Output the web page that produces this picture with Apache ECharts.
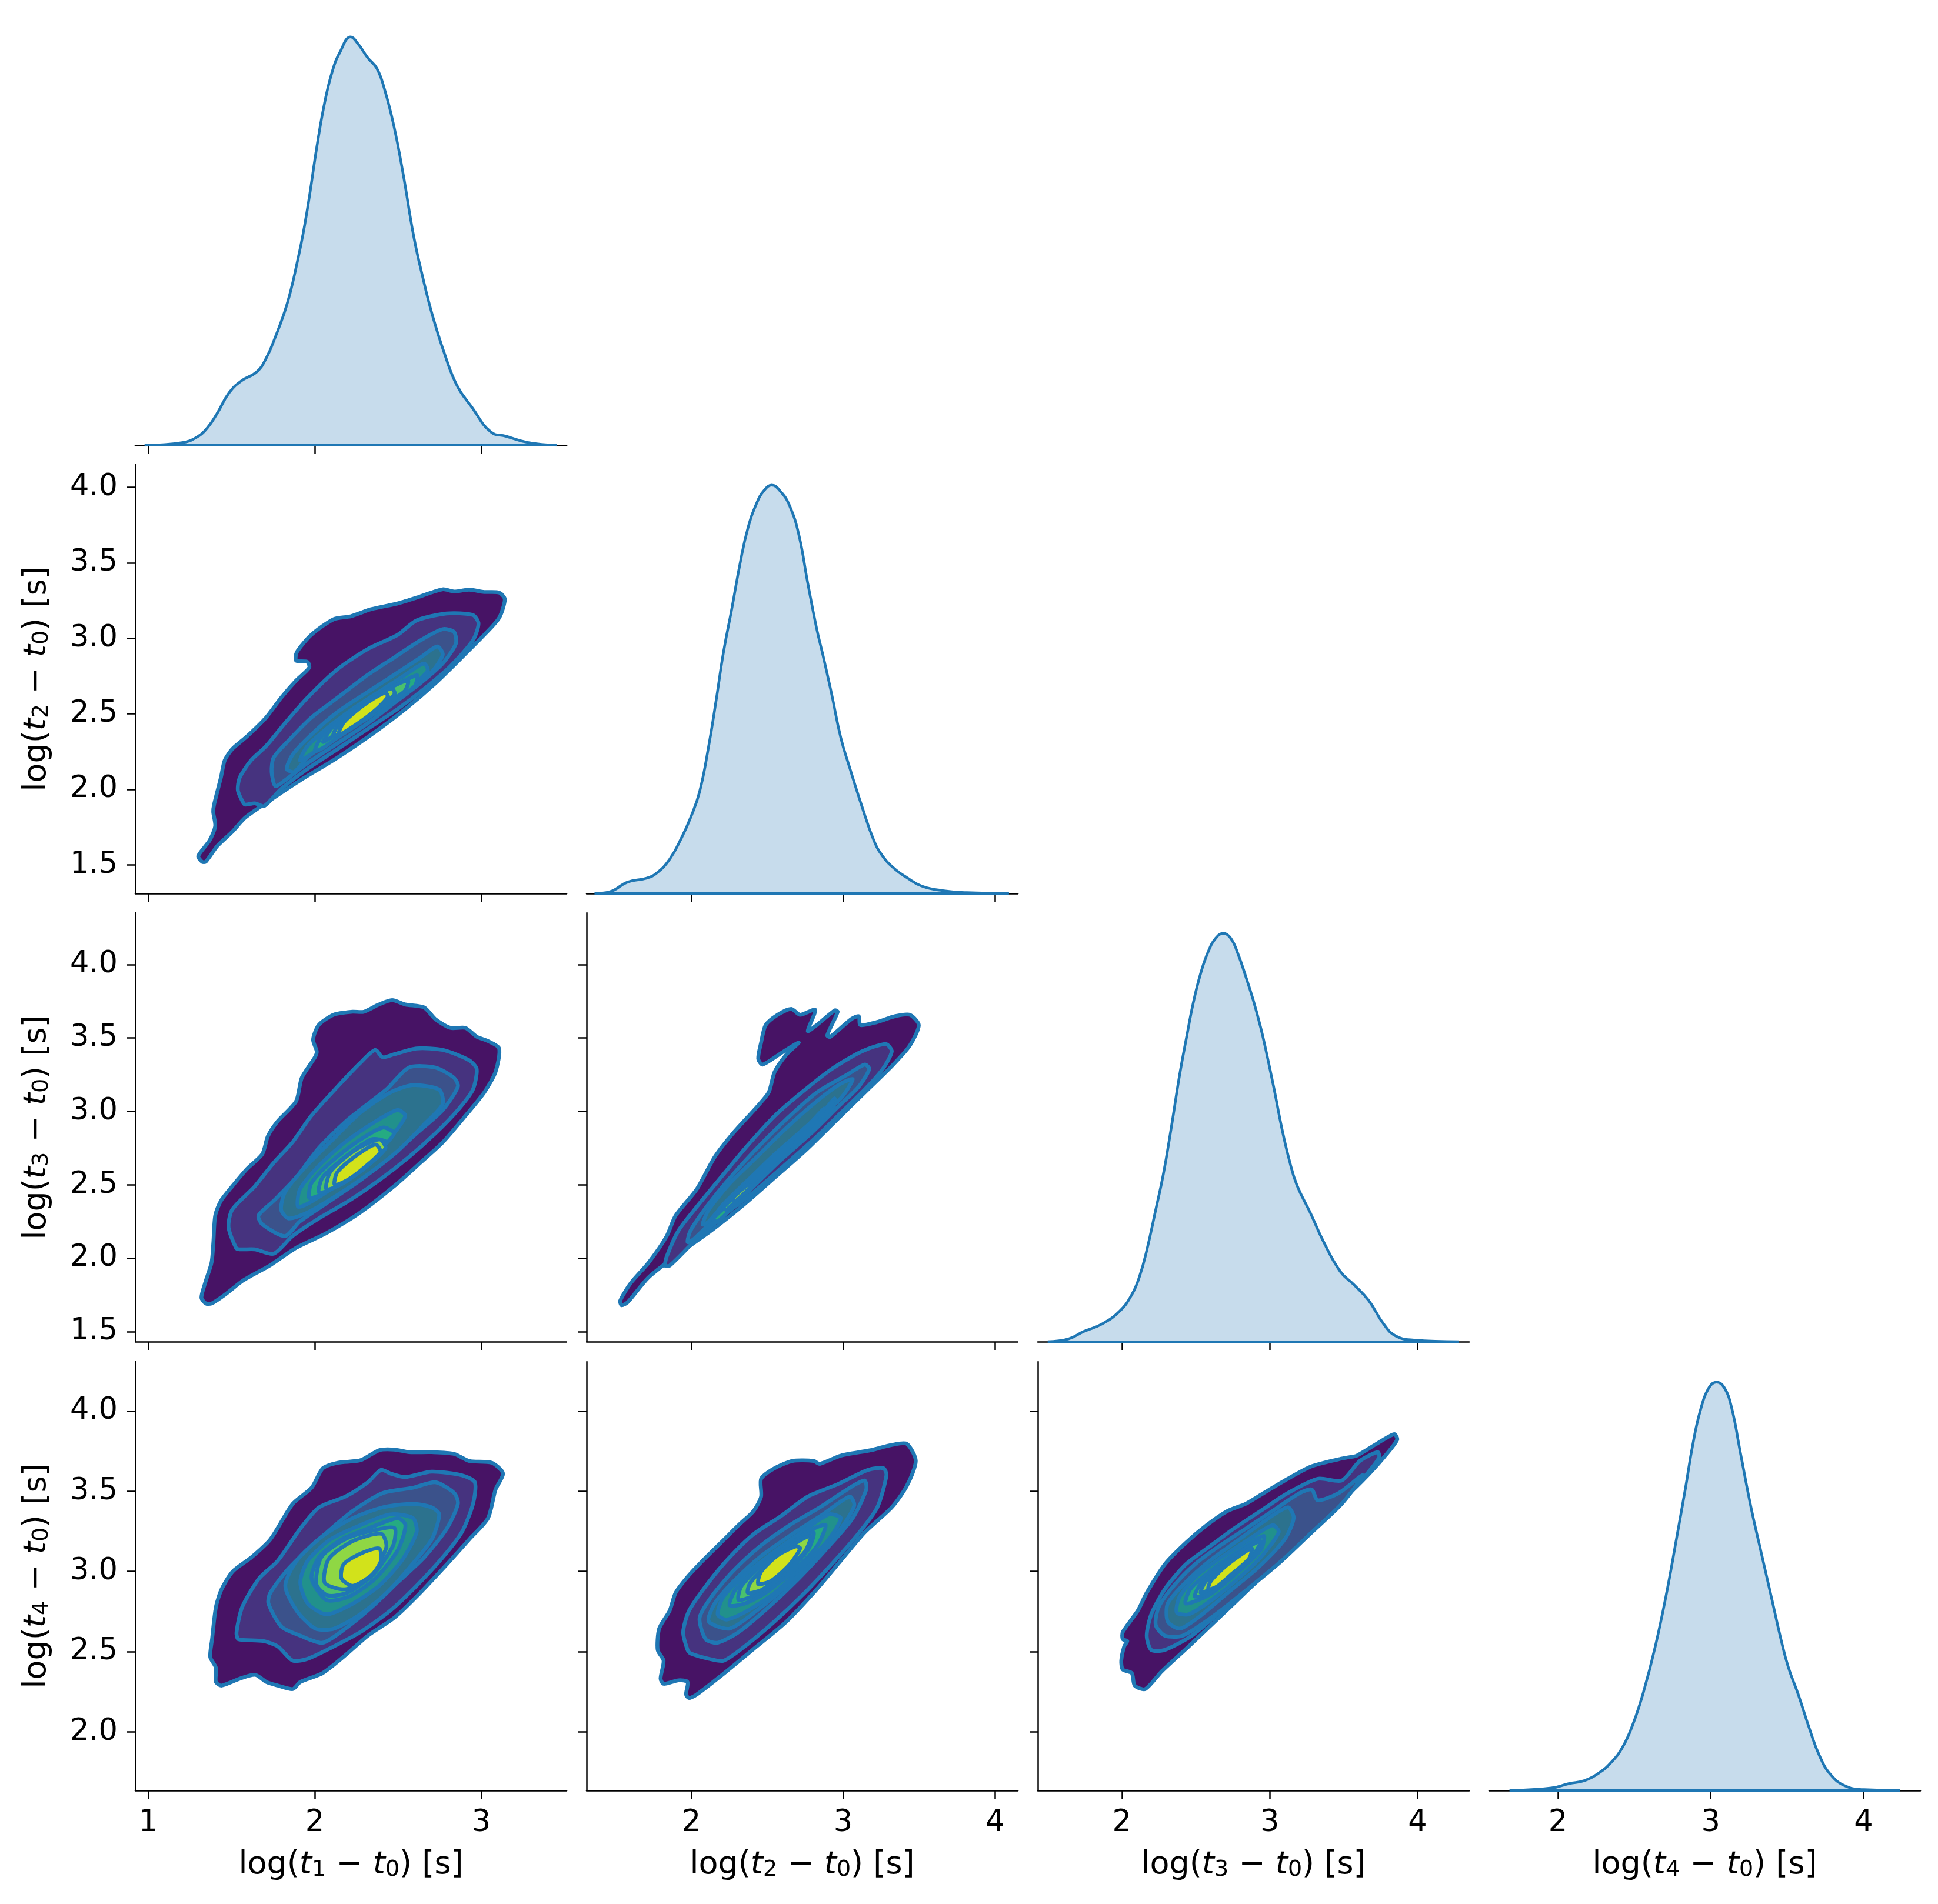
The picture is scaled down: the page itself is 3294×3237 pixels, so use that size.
<!DOCTYPE html>
<html><head><meta charset="utf-8">
<script src="https://cdn.jsdelivr.net/npm/echarts@6/dist/echarts.min.js"></script>
<style>html,body{margin:0;padding:0;background:#fff}#c{width:3294px;height:3237px}</style>
</head><body><div id="c"></div>
<script>
// ---------------- DATA ----------------
// Diagonal KDE curves (x value, relative density)
const kde1_x = [0.978,1.209,1.300,1.357,1.412,1.486,1.560,1.652,1.708,1.763,1.819,1.856,1.893,1.930,1.967,2.013,2.059,2.105,2.152,2.216,2.262,2.318,2.373,2.420,2.475,2.531,2.595,2.651,2.706,2.780,2.854,2.946,3.057,3.150,3.279,3.455];
const kde1_y = [0,0.007,0.022,0.044,0.077,0.129,0.158,0.180,0.213,0.265,0.327,0.379,0.445,0.518,0.607,0.732,0.838,0.915,0.963,1.0,0.982,0.949,0.923,0.871,0.783,0.665,0.511,0.408,0.320,0.224,0.147,0.092,0.033,0.022,0.007,0];
const kde2_x = [1.364,1.462,1.581,1.700,1.769,1.858,1.937,1.996,2.055,2.115,2.164,2.213,2.267,2.322,2.372,2.431,2.480,2.530,2.589,2.648,2.708,2.767,2.826,2.866,2.925,2.984,3.043,3.123,3.202,3.261,3.340,3.419,3.518,3.656,3.814,4.091];
const kde2_y = [0,0.004,0.028,0.037,0.049,0.084,0.137,0.186,0.249,0.361,0.473,0.592,0.697,0.809,0.893,0.956,0.987,1.0,0.984,0.949,0.879,0.760,0.648,0.585,0.487,0.382,0.308,0.214,0.130,0.091,0.060,0.039,0.018,0.007,0.002,0];
const kde3_x = [1.499,1.641,1.742,1.864,1.986,2.067,2.118,2.168,2.229,2.280,2.331,2.391,2.442,2.483,2.533,2.584,2.635,2.686,2.736,2.787,2.838,2.888,2.939,2.980,3.030,3.081,3.132,3.183,3.274,3.365,3.477,3.568,3.669,3.771,3.852,3.974,4.278];
const kde3_y = [0,0.007,0.025,0.043,0.075,0.115,0.158,0.223,0.323,0.409,0.517,0.654,0.754,0.830,0.902,0.955,0.988,1.0,0.988,0.948,0.894,0.837,0.769,0.704,0.618,0.524,0.445,0.384,0.316,0.244,0.172,0.140,0.101,0.043,0.014,0.004,0];
const kde4_x = [1.684,1.957,2.074,2.172,2.269,2.347,2.425,2.493,2.561,2.639,2.717,2.776,2.834,2.883,2.932,2.990,3.039,3.088,3.136,3.195,3.263,3.331,3.400,3.458,3.507,3.575,3.643,3.712,3.789,3.887,4.004,4.238];
const kde4_y = [0,0.006,0.017,0.024,0.043,0.068,0.107,0.164,0.242,0.355,0.494,0.616,0.738,0.847,0.930,0.987,1.0,0.987,0.939,0.826,0.695,0.582,0.469,0.373,0.303,0.233,0.155,0.085,0.037,0.010,0.002,0];

// Contour level polygons (outer level first), [x, y] in data units
const r2c1 = [
 [[1.323,1.521],[1.300,1.559],[1.368,1.662],[1.402,1.757],[1.390,1.851],[1.395,1.899],[1.436,2.078],[1.459,2.192],[1.504,2.267],[1.594,2.352],[1.707,2.475],[1.798,2.607],[1.888,2.721],[1.967,2.806],[1.956,2.844],[1.888,2.853],[1.893,2.910],[1.979,3.023],[2.114,3.127],[2.216,3.146],[2.340,3.193],[2.498,3.231],[2.611,3.269],[2.769,3.325],[2.837,3.310],[2.928,3.322],[3.018,3.307],[3.108,3.303],[3.142,3.259],[3.108,3.136],[3.018,3.023],[2.882,2.872],[2.724,2.702],[2.544,2.532],[2.363,2.381],[2.137,2.211],[1.911,2.059],[1.730,1.927],[1.583,1.814],[1.504,1.719],[1.414,1.625],[1.345,1.521]],
 [[1.572,1.908],[1.538,1.993],[1.549,2.078],[1.617,2.192],[1.707,2.286],[1.820,2.437],[1.956,2.607],[2.137,2.796],[2.318,2.929],[2.498,3.023],[2.611,3.118],[2.792,3.165],[2.950,3.155],[2.984,3.099],[2.950,2.986],[2.815,2.815],[2.656,2.664],[2.498,2.532],[2.318,2.400],[2.137,2.267],[1.956,2.135],[1.798,2.003],[1.696,1.890],[1.640,1.908],[1.583,1.899]],
 [[1.741,2.116],[1.753,2.211],[1.843,2.324],[1.979,2.475],[2.137,2.607],[2.318,2.758],[2.476,2.872],[2.634,2.986],[2.769,3.061],[2.837,3.042],[2.848,2.966],[2.769,2.834],[2.634,2.702],[2.476,2.570],[2.318,2.437],[2.137,2.305],[1.956,2.173],[1.820,2.059],[1.763,2.022]],
 [[1.832,2.135],[1.866,2.229],[1.979,2.362],[2.137,2.513],[2.318,2.645],[2.476,2.758],[2.634,2.872],[2.736,2.947],[2.769,2.891],[2.702,2.777],[2.566,2.664],[2.407,2.551],[2.250,2.437],[2.092,2.324],[1.956,2.211],[1.877,2.116]],
 [[1.911,2.192],[1.956,2.286],[2.069,2.400],[2.227,2.532],[2.385,2.645],[2.543,2.758],[2.656,2.834],[2.679,2.787],[2.588,2.683],[2.453,2.570],[2.295,2.456],[2.137,2.343],[2.001,2.249]],
 [[2.000,2.255],[2.050,2.365],[2.195,2.490],[2.363,2.605],[2.505,2.700],[2.615,2.755],[2.600,2.683],[2.476,2.589],[2.318,2.475],[2.159,2.362],[2.050,2.275]],
 [[2.050,2.315],[2.120,2.430],[2.265,2.550],[2.430,2.660],[2.560,2.720],[2.540,2.650],[2.395,2.545],[2.250,2.440],[2.120,2.360]],
 [[2.110,2.355],[2.160,2.455],[2.310,2.580],[2.460,2.670],[2.480,2.630],[2.350,2.510],[2.210,2.400]],
 [[2.145,2.365],[2.172,2.440],[2.290,2.555],[2.420,2.640],[2.440,2.615],[2.370,2.530],[2.250,2.430]]
];
const r3c1 = [
 [[1.346,1.692],[1.319,1.732],[1.341,1.831],[1.380,1.971],[1.391,2.111],[1.402,2.291],[1.436,2.391],[1.504,2.490],[1.594,2.610],[1.685,2.710],[1.718,2.830],[1.775,2.930],[1.888,3.070],[1.922,3.229],[2.001,3.369],[2.012,3.409],[1.990,3.489],[2.024,3.589],[2.115,3.659],[2.227,3.679],[2.295,3.679],[2.385,3.728],[2.465,3.758],[2.544,3.728],[2.657,3.708],[2.724,3.629],[2.815,3.569],[2.905,3.569],[2.973,3.509],[3.041,3.479],[3.108,3.429],[3.086,3.269],[3.018,3.129],[2.905,2.970],[2.769,2.790],[2.634,2.650],[2.476,2.490],[2.272,2.311],[2.069,2.171],[1.888,2.071],[1.730,1.951],[1.572,1.851],[1.459,1.751],[1.380,1.692]],
 [[1.527,2.071],[1.482,2.211],[1.504,2.331],[1.640,2.490],[1.753,2.650],[1.866,2.790],[1.979,2.970],[2.137,3.169],[2.272,3.329],[2.363,3.419],[2.408,3.369],[2.476,3.389],[2.611,3.429],[2.769,3.419],[2.927,3.349],[2.973,3.289],[2.950,3.149],[2.860,3.010],[2.724,2.850],[2.566,2.690],[2.385,2.530],[2.205,2.391],[2.024,2.271],[1.866,2.151],[1.753,2.031],[1.640,2.061],[1.549,2.061]],
 [[1.685,2.231],[1.662,2.291],[1.753,2.391],[1.888,2.550],[2.024,2.750],[2.205,2.950],[2.430,3.149],[2.566,3.299],[2.724,3.299],[2.837,3.229],[2.860,3.169],[2.769,3.010],[2.611,2.850],[2.453,2.690],[2.272,2.530],[2.092,2.391],[1.911,2.251],[1.821,2.151]],
 [[1.798,2.331],[1.821,2.450],[1.934,2.610],[2.092,2.790],[2.272,2.990],[2.453,3.129],[2.589,3.179],[2.747,3.149],[2.769,3.050],[2.656,2.910],[2.498,2.730],[2.318,2.570],[2.137,2.431],[1.956,2.311],[1.843,2.271]],
 [[1.899,2.351],[1.911,2.470],[2.024,2.630],[2.182,2.790],[2.363,2.930],[2.498,3.010],[2.544,2.970],[2.476,2.850],[2.363,2.710],[2.227,2.570],[2.069,2.450],[1.956,2.371]],
 [[1.967,2.411],[1.979,2.510],[2.092,2.650],[2.250,2.790],[2.408,2.890],[2.476,2.850],[2.385,2.730],[2.250,2.590],[2.114,2.480],[2.012,2.421]],
 [[2.024,2.451],[2.047,2.550],[2.182,2.690],[2.340,2.810],[2.431,2.790],[2.340,2.670],[2.205,2.550],[2.081,2.460]],
 [[2.070,2.470],[2.095,2.590],[2.240,2.735],[2.390,2.810],[2.425,2.750],[2.318,2.630],[2.170,2.510]],
 [[2.120,2.500],[2.135,2.585],[2.250,2.700],[2.365,2.775],[2.395,2.725],[2.310,2.630],[2.200,2.535]]
];
const r3c2 = [
 [[1.542,1.680],[1.532,1.710],[1.601,1.830],[1.719,1.970],[1.838,2.150],[1.897,2.290],[2.036,2.470],[2.154,2.689],[2.273,2.849],[2.431,3.029],[2.510,3.129],[2.549,3.269],[2.628,3.389],[2.708,3.469],[2.609,3.409],[2.470,3.319],[2.441,3.359],[2.460,3.469],[2.490,3.588],[2.569,3.658],[2.658,3.698],[2.717,3.658],[2.816,3.692],[2.767,3.548],[2.826,3.588],[2.945,3.688],[2.964,3.678],[2.895,3.518],[2.915,3.508],[3.053,3.628],[3.103,3.648],[3.113,3.588],[3.221,3.608],[3.340,3.648],[3.439,3.658],[3.498,3.588],[3.439,3.449],[3.320,3.309],[3.142,3.129],[2.945,2.929],[2.747,2.729],[2.549,2.549],[2.352,2.370],[2.134,2.190],[1.917,2.030],[1.719,1.870],[1.581,1.700]],
 [[1.828,1.950],[1.838,2.010],[1.917,2.190],[2.036,2.350],[2.194,2.549],[2.372,2.769],[2.549,2.969],[2.727,3.129],[2.925,3.289],[3.123,3.409],[3.281,3.459],[3.320,3.409],[3.261,3.289],[3.142,3.149],[2.984,2.989],[2.806,2.809],[2.609,2.629],[2.411,2.450],[2.213,2.290],[2.016,2.110],[1.858,1.950]],
 [[1.976,2.110],[1.996,2.190],[2.115,2.370],[2.273,2.569],[2.451,2.769],[2.628,2.949],[2.826,3.129],[3.024,3.249],[3.142,3.319],[3.172,3.289],[3.103,3.169],[2.964,3.029],[2.787,2.849],[2.589,2.669],[2.391,2.490],[2.194,2.310],[2.016,2.130]],
 [[2.075,2.230],[2.115,2.330],[2.253,2.509],[2.431,2.689],[2.628,2.889],[2.826,3.069],[2.984,3.189],[3.063,3.219],[2.984,3.089],[2.806,2.929],[2.609,2.749],[2.411,2.569],[2.233,2.390],[2.115,2.250]],
 [[2.154,2.290],[2.213,2.370],[2.352,2.509],[2.530,2.689],[2.727,2.869],[2.885,3.019],[2.945,3.089],[2.925,3.009],[2.767,2.849],[2.589,2.689],[2.411,2.529],[2.233,2.370]],
 [[2.144,2.270],[2.352,2.470],[2.628,2.749],[2.846,2.969],[2.935,3.069],[2.866,2.949],[2.628,2.709],[2.352,2.430],[2.174,2.250]],
 [[2.213,2.350],[2.431,2.550],[2.668,2.789],[2.874,3.019],[2.826,2.929],[2.628,2.729],[2.411,2.510],[2.233,2.330]],
 [[2.273,2.410],[2.470,2.589],[2.688,2.809],[2.826,2.959],[2.787,2.899],[2.628,2.739],[2.451,2.549],[2.293,2.390]],
 [[2.391,2.520],[2.530,2.669],[2.668,2.799],[2.628,2.739],[2.510,2.629],[2.411,2.529]]
];
const r4c1 = [
 [[1.440,2.289],[1.406,2.311],[1.406,2.400],[1.372,2.467],[1.383,2.578],[1.406,2.778],[1.440,2.889],[1.507,3.000],[1.620,3.089],[1.733,3.200],[1.868,3.422],[1.981,3.522],[2.049,3.644],[2.139,3.678],[2.274,3.693],[2.387,3.756],[2.477,3.760],[2.567,3.744],[2.702,3.744],[2.838,3.733],[2.928,3.689],[3.063,3.678],[3.131,3.611],[3.086,3.511],[3.041,3.333],[2.928,3.200],[2.793,3.044],[2.612,2.844],[2.477,2.711],[2.319,2.600],[2.184,2.478],[2.048,2.367],[1.913,2.311],[1.868,2.267],[1.778,2.289],[1.710,2.311],[1.643,2.356],[1.552,2.333]],
 [[1.541,2.578],[1.530,2.622],[1.564,2.778],[1.665,2.956],[1.778,3.067],[1.913,3.267],[2.026,3.400],[2.184,3.467],[2.319,3.556],[2.398,3.633],[2.454,3.611],[2.544,3.589],[2.702,3.622],[2.883,3.600],[2.962,3.556],[2.951,3.422],[2.883,3.244],[2.770,3.089],[2.612,2.911],[2.454,2.756],[2.274,2.622],[2.094,2.522],[1.958,2.456],[1.868,2.444],[1.778,2.533],[1.688,2.567]],
 [[1.722,2.800],[1.733,2.867],[1.846,3.022],[2.026,3.200],[2.229,3.378],[2.409,3.489],[2.590,3.522],[2.725,3.556],[2.838,3.489],[2.860,3.422],[2.793,3.267],[2.658,3.089],[2.499,2.933],[2.342,2.778],[2.184,2.644],[2.048,2.556],[1.913,2.600],[1.800,2.656]],
 [[1.823,2.911],[1.891,3.067],[2.049,3.222],[2.229,3.333],[2.409,3.400],[2.590,3.422],[2.702,3.400],[2.748,3.356],[2.703,3.200],[2.567,3.022],[2.432,2.867],[2.274,2.733],[2.116,2.644],[2.004,2.644],[1.891,2.756]],
 [[1.913,2.933],[1.958,3.067],[2.094,3.200],[2.274,3.289],[2.454,3.356],[2.590,3.333],[2.612,3.244],[2.522,3.067],[2.387,2.911],[2.229,2.800],[2.071,2.733],[1.958,2.800]],
 [[1.981,2.956],[2.026,3.089],[2.161,3.200],[2.319,3.267],[2.499,3.333],[2.545,3.289],[2.499,3.133],[2.364,2.956],[2.206,2.844],[2.071,2.822]],
 [[2.010,2.920],[2.040,3.090],[2.190,3.205],[2.370,3.260],[2.480,3.270],[2.470,3.160],[2.350,2.980],[2.200,2.870],[2.080,2.850]],
 [[2.060,2.930],[2.085,3.080],[2.230,3.190],[2.400,3.235],[2.430,3.150],[2.340,2.990],[2.190,2.890]],
 [[2.161,2.956],[2.173,3.044],[2.274,3.111],[2.387,3.144],[2.398,3.067],[2.342,2.978],[2.229,2.911]]
];
const r4c2 = [
 [[1.986,2.211],[1.966,2.233],[1.976,2.311],[1.917,2.322],[1.818,2.300],[1.798,2.333],[1.818,2.444],[1.779,2.511],[1.789,2.644],[1.858,2.756],[1.897,2.867],[1.976,2.967],[2.075,3.067],[2.194,3.178],[2.312,3.289],[2.411,3.378],[2.460,3.467],[2.460,3.578],[2.549,3.644],[2.668,3.689],[2.806,3.689],[2.846,3.671],[2.984,3.722],[3.182,3.756],[3.320,3.789],[3.419,3.796],[3.478,3.689],[3.419,3.533],[3.320,3.400],[3.142,3.244],[2.984,3.067],[2.826,2.889],[2.628,2.689],[2.431,2.533],[2.233,2.378],[2.036,2.233]],
 [[1.976,2.511],[1.947,2.622],[1.986,2.756],[2.115,2.933],[2.253,3.089],[2.411,3.233],[2.589,3.344],[2.767,3.467],[2.964,3.544],[3.162,3.633],[3.265,3.644],[3.285,3.600],[3.225,3.400],[3.107,3.244],[2.945,3.067],[2.747,2.867],[2.549,2.689],[2.352,2.533],[2.213,2.444],[2.115,2.456],[1.996,2.489]],
 [[2.095,2.578],[2.055,2.711],[2.134,2.844],[2.273,3.000],[2.451,3.156],[2.648,3.289],[2.846,3.400],[3.063,3.533],[3.142,3.567],[3.152,3.511],[3.063,3.333],[2.905,3.156],[2.708,2.956],[2.510,2.778],[2.312,2.622],[2.174,2.556]],
 [[2.115,2.689],[2.154,2.800],[2.273,2.933],[2.451,3.089],[2.648,3.222],[2.866,3.356],[3.043,3.467],[3.073,3.411],[2.984,3.267],[2.826,3.089],[2.628,2.911],[2.431,2.756],[2.253,2.644]],
 [[2.174,2.733],[2.213,2.844],[2.352,2.978],[2.530,3.111],[2.727,3.244],[2.905,3.356],[2.984,3.333],[2.905,3.200],[2.747,3.044],[2.549,2.867],[2.372,2.756],[2.233,2.700]],
 [[2.253,2.789],[2.292,2.889],[2.431,3.011],[2.628,3.156],[2.806,3.267],[2.885,3.289],[2.826,3.156],[2.668,3.000],[2.490,2.867],[2.352,2.800]],
 [[2.312,2.822],[2.332,2.911],[2.470,3.044],[2.668,3.178],[2.806,3.244],[2.767,3.133],[2.609,2.978],[2.451,2.867]],
 [[2.372,2.867],[2.391,2.933],[2.530,3.067],[2.708,3.189],[2.787,3.222],[2.747,3.122],[2.589,2.978],[2.470,2.889]],
 [[2.441,2.922],[2.461,3.000],[2.569,3.100],[2.688,3.156],[2.717,3.144],[2.648,3.044],[2.530,2.944]]
];
const r4c3 = [
 [[2.158,2.267],[2.087,2.289],[2.067,2.367],[2.006,2.389],[1.996,2.444],[2.016,2.533],[2.037,2.567],[2.006,2.578],[2.006,2.622],[2.108,2.756],[2.168,2.867],[2.290,3.044],[2.432,3.178],[2.574,3.289],[2.716,3.378],[2.838,3.422],[2.959,3.489],[3.122,3.578],[3.284,3.656],[3.467,3.700],[3.527,3.711],[3.588,3.722],[3.730,3.800],[3.842,3.856],[3.862,3.822],[3.771,3.711],[3.629,3.567],[3.467,3.422],[3.264,3.244],[3.061,3.067],[2.858,2.889],[2.655,2.711],[2.452,2.533],[2.270,2.378]],
 [[2.199,2.511],[2.168,2.600],[2.199,2.733],[2.290,2.889],[2.432,3.044],[2.594,3.156],[2.757,3.267],[2.939,3.378],[3.122,3.489],[3.325,3.578],[3.487,3.567],[3.609,3.689],[3.730,3.744],[3.740,3.711],[3.649,3.600],[3.487,3.444],[3.284,3.267],[3.081,3.089],[2.878,2.911],[2.675,2.756],[2.473,2.600],[2.290,2.511]],
 [[2.229,2.667],[2.249,2.778],[2.351,2.911],[2.493,3.044],[2.655,3.156],[2.838,3.267],[3.020,3.378],[3.203,3.489],[3.284,3.511],[3.325,3.444],[3.467,3.489],[3.629,3.600],[3.487,3.422],[3.284,3.244],[3.081,3.067],[2.878,2.911],[2.635,2.733],[2.412,2.600],[2.290,2.600]],
 [[2.310,2.689],[2.310,2.800],[2.432,2.933],[2.594,3.067],[2.777,3.189],[2.959,3.311],[3.122,3.400],[3.162,3.333],[3.101,3.200],[2.919,3.022],[2.716,2.867],[2.513,2.711],[2.391,2.644]],
 [[2.371,2.744],[2.391,2.844],[2.513,2.978],[2.675,3.089],[2.858,3.200],[3.020,3.289],[3.061,3.244],[2.939,3.089],[2.757,2.933],[2.574,2.800],[2.452,2.733]],
 [[2.432,2.800],[2.462,2.889],[2.594,3.000],[2.777,3.122],[2.959,3.222],[2.939,3.133],[2.777,2.989],[2.594,2.856]],
 [[2.493,2.844],[2.533,2.922],[2.655,3.022],[2.817,3.133],[2.939,3.189],[2.878,3.089],[2.716,2.956],[2.594,2.867]],
 [[2.533,2.867],[2.564,2.933],[2.696,3.044],[2.858,3.156],[2.838,3.089],[2.696,2.967],[2.594,2.889]],
 [[2.584,2.889],[2.604,2.944],[2.716,3.044],[2.878,3.144],[2.858,3.078],[2.736,2.978],[2.645,2.907]]
];

// Axis ranges and tick values
const colRange = [[0.922,3.513],[1.311,4.150],[1.432,4.348],[1.550,4.372]];
const rowRange = [[0,1.05],[1.311,4.150],[1.432,4.352],[1.635,4.308]];
const xTicks = [[1,2,3],[2,3,4],[2,3,4],[2,3,4]];
const yTicks = [[],[1.5,2.0,2.5,3.0,3.5,4.0],[1.5,2.0,2.5,3.0,3.5,4.0],[2.0,2.5,3.0,3.5,4.0]];
const varIndex = [1,2,3,4];

// ---------------- STYLE / LAYOUT ----------------
const FONT = 'DejaVu Sans';
const LINE_BLUE = '#1f77b4';
const KDE_FILL = '#c7dcec';
const LEVEL_FILL = ['#471365','#46337f','#3b528b','#2c728e','#21918c','#25ab82','#4ac16d','#8fd744','#d2e21b'];
const COL_L = [230,997,1764,2531], ROW_T = [28,790,1552,2315], PW = 733, PH = 729;
const AX = {color:'#000', width:2.5};
const nameRich = {
  n:{fontSize:54,fontFamily:FONT,color:'#000'},
  t:{fontSize:54,fontFamily:FONT,fontStyle:'italic',color:'#000'},
  s:{fontSize:38,fontFamily:FONT,color:'#000',verticalAlign:'bottom',lineHeight:30}
};
function axisName(i){ return '{n|log(}{t|t}{s|'+i+'}{n| − }{t|t}{s|0}{n|) [s]}'; }

const kdeX = [kde1_x,kde2_x,kde3_x,kde4_x], kdeY = [kde1_y,kde2_y,kde3_y,kde4_y];
const panels = {'1_0':r2c1,'2_0':r3c1,'2_1':r3c2,'3_0':r4c1,'3_1':r4c2,'3_2':r4c3};

const grids=[], xAxes=[], yAxes=[], series=[];
function contourRender(polys){
  return function(params, api){
    const pts = polys[params.dataIndex].map(p => api.coord(p));
    return {type:'polygon', shape:{points:pts, smooth:0.25},
      style:{fill:LEVEL_FILL[params.dataIndex], stroke:LINE_BLUE, lineWidth:6.5, lineJoin:'round'}};
  };
}
for (let r=0;r<4;r++){
  for (let c=0;c<=r;c++){
    const g = grids.length;
    grids.push({left:COL_L[c], top:ROW_T[r], width:PW, height:PH});
    const bottom = r===3;
    xAxes.push({type:'value', gridIndex:g, min:colRange[c][0], max:colRange[c][1],
      axisLine:{show:true,onZero:false,lineStyle:AX},
      axisTick:{show:true,length:14,lineStyle:AX,customValues:xTicks[c]},
      axisLabel:{show:bottom,customValues:xTicks[c],fontSize:51,color:'#000',fontFamily:FONT,margin:30,formatter:v=>String(v)},
      splitLine:{show:false},
      name: bottom ? axisName(varIndex[c]) : '', nameLocation:'middle', nameGap:100,
      nameTextStyle:{rich:nameRich,fontSize:54,fontFamily:FONT,color:'#000'}});
    if (r===c){
      yAxes.push({type:'value', gridIndex:g, min:rowRange[0][0], max:rowRange[0][1], show:false});
      const kx=kdeX[c], ky=kdeY[c];
      series.push({type:'line', xAxisIndex:g, yAxisIndex:g, data:kx.map((x,i)=>[x,ky[i]]),
        smooth:0.45, showSymbol:false, silent:true,
        lineStyle:{color:LINE_BLUE,width:4.5}, areaStyle:{color:KDE_FILL,opacity:1}});
      series.push({type:'line', xAxisIndex:g, yAxisIndex:g, data:[[kx[0],0],[kx[kx.length-1],0]],
        showSymbol:false, silent:true, lineStyle:{color:LINE_BLUE,width:4}});
    } else {
      yAxes.push({type:'value', gridIndex:g, min:rowRange[r][0], max:rowRange[r][1],
        axisLine:{show:true,onZero:false,lineStyle:AX},
        axisTick:{show:true,length:14,lineStyle:AX,customValues:yTicks[r]},
        axisLabel:{show:c===0,customValues:yTicks[r],fontSize:51,color:'#000',fontFamily:FONT,margin:30,formatter:v=>v.toFixed(1)},
        splitLine:{show:false},
        name: c===0 ? axisName(varIndex[r]) : '', nameLocation:'middle', nameGap:140,
        nameTextStyle:{rich:nameRich,fontSize:54,fontFamily:FONT,color:'#000'}});
      const polys = panels[r+'_'+c];
      series.push({type:'custom', coordinateSystem:'cartesian2d', xAxisIndex:g, yAxisIndex:g,
        clip:true, silent:true, data:polys.map(p=>p[0]), renderItem:contourRender(polys)});
    }
  }
}
const chart = echarts.init(document.getElementById('c'), null, {renderer:'canvas'});
chart.setOption({animation:false, backgroundColor:'#fff', grid:grids, xAxis:xAxes, yAxis:yAxes, series:series});
</script></body></html>
